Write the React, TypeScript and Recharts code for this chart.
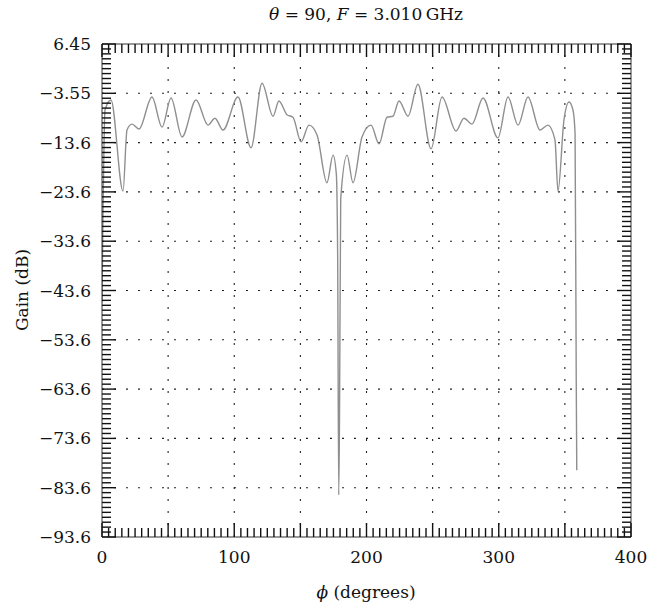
import React from 'react';
import { LineChart, Line, XAxis, YAxis, ReferenceLine, Label } from 'recharts';

// phi (degrees) and gain (dB)
const phiDeg = [
  0, 2.3, 6.8, 15.9, 18.9, 22.7, 28, 37.8, 45.4, 52.2, 60.5, 71.1, 80.2, 85.4, 91.5,
  102.8, 112.7, 121, 129.3, 133.8, 139.9, 144.4, 150.5, 156.5, 162.6, 170.1, 174.7,
  177.2, 178.2, 179, 179.6, 180.5, 185.3, 189.8, 196.6, 203.4, 209.5, 215.5, 220,
  224.6, 231.4, 238.9, 248.8, 257.1, 267.7, 273.7, 279.8, 288.1, 299.4, 307, 314.6,
  322.1, 331.2, 337.2, 342.5, 344.8, 349.3, 353.1, 356.1, 357.7, 358.6, 359,
];
const gainDb = [
  -46, -6.9, -4.9, -23.4, -11.0, -9.8, -10.8, -4.3, -10.4, -4.5, -12.4, -4.9, -10.0, -8.6, -11.0,
  -4.3, -14.6, -1.5, -8.2, -5.1, -7.9, -8.4, -13.4, -10.0, -12.0, -21.7, -16.1,
  -20, -37, -85, -69, -25, -16.1, -21.7, -12.4, -10.0, -13.8, -8.4, -8.2,
  -5.1, -8.2, -1.7, -14.8, -4.3, -11.2, -8.6, -9.8, -4.5, -12.6, -4.3, -10.0,
  -4.3, -11.0, -10.0, -13.0, -23.4, -9.0, -5.3, -6.9, -11.6, -62, -80,
];

const xTickLabels = ['0', '100', '200', '300', '400'];
const yTickLabels = ['6.45', '\u22123.55', '\u221213.6', '\u221223.6', '\u221233.6', '\u221243.6', '\u221253.6', '\u221263.6', '\u221273.6', '\u221283.6', '\u221293.6'];
const xGridValues = [50, 100, 150, 200, 250, 300, 350];
const yGridValues = [-3.55, -13.55, -23.55, -33.55, -43.55, -53.55, -63.55, -73.55, -83.55];

const title = { theta: '90', freq: '3.010\u2009GHz' };
const xAxisTitle = 'ϕ';
const yAxisTitle = 'Gain (dB)';

const data = phiDeg.map((p, i) => ({ phi: p, gain: gainDb[i] }));

const xTicks = Array.from({ length: 81 }, (_, i) => i * 5);
const yTicks = Array.from({ length: 101 }, (_, i) => Number((6.45 - i).toFixed(2)));

const FONT = "'DejaVu Serif', 'Liberation Serif', serif";
const FS = 17;
const TICK = '#111';
const TW = 1.4;

const BottomTick = (props: any) => {
  const { x, y, payload } = props;
  const v = Math.round(payload.value);
  const major = v % 50 === 0;
  const lab = v % 100 === 0;
  return (
    <g>
      <line x1={x} x2={x} y1={y} y2={y - (major ? 14 : 9)} stroke={TICK} strokeWidth={TW} />
      {lab && (
        <text x={x} y={y + 26} textAnchor="middle" fontFamily={FONT} fontSize={FS} fill="#111">
          {xTickLabels[v / 100]}
        </text>
      )}
    </g>
  );
};

const TopTick = (props: any) => {
  const { x, y, payload } = props;
  const v = Math.round(payload.value);
  const major = v % 50 === 0;
  return <line x1={x} x2={x} y1={y} y2={y + (major ? 13 : 9)} stroke={TICK} strokeWidth={TW} />;
};

const LeftTick = (props: any) => {
  const { x, y, index } = props;
  const major = index % 10 === 0;
  return (
    <g>
      <line x1={x} x2={x + (major ? 14 : 9)} y1={y} y2={y} stroke={TICK} strokeWidth={TW} />
      {major && (
        <text x={x - 11} y={y + 6} textAnchor="end" fontFamily={FONT} fontSize={FS} fill="#111">
          {yTickLabels[index / 10]}
        </text>
      )}
    </g>
  );
};

const RightTick = (props: any) => {
  const { x, y, index } = props;
  const major = index % 10 === 0;
  return <line x1={x} x2={x - (major ? 14 : 9)} y1={y} y2={y} stroke={TICK} strokeWidth={TW} />;
};

export default function App() {
  return (
    <div style={{ position: 'absolute', left: 0, top: 0, width: 648, height: 606, background: '#fff' }}>
      <LineChart
        width={648}
        height={606}
        data={data}
        margin={{ top: 34, right: 7, bottom: 39, left: 42 }}
      >
        {xGridValues.map((v) => (
          <ReferenceLine key={'gx' + v} x={v} xAxisId="bottom" yAxisId="left" stroke="#222" strokeWidth={1.1} strokeDasharray="2 10" />
        ))}
        {yGridValues.map((v) => (
          <ReferenceLine key={'gy' + v} y={v} xAxisId="bottom" yAxisId="left" stroke="#222" strokeWidth={1.1} strokeDasharray="2 10" />
        ))}
        <XAxis
          xAxisId="bottom"
          dataKey="phi"
          type="number"
          domain={[0, 400]}
          ticks={xTicks}
          interval={0}
          tickSize={0}
          tickMargin={0}
          tickLine={false}
          tick={<BottomTick />}
          height={30}
          axisLine={{ stroke: '#333', strokeWidth: 1 }}
          allowDataOverflow
        >
          <Label
            content={() => (
              <text x={366} y={598} textAnchor="middle" fontFamily={FONT} fontSize={FS} fill="#111">
                <tspan fontStyle="italic">{xAxisTitle}</tspan>
                <tspan> (degrees)</tspan>
              </text>
            )}
          />
        </XAxis>
        <XAxis
          xAxisId="top"
          orientation="top"
          dataKey="phi"
          type="number"
          domain={[0, 400]}
          ticks={xTicks}
          interval={0}
          tickSize={0}
          tickMargin={0}
          tickLine={false}
          tick={<TopTick />}
          height={10}
          axisLine={{ stroke: '#333', strokeWidth: 1 }}
          allowDataOverflow
        >
          <Label
            content={() => (
              <text x={366} y={20} textAnchor="middle" fontFamily={FONT} fontSize={FS} fill="#111">
                <tspan fontStyle="italic">θ</tspan>
                <tspan>{' = ' + title.theta + ', '}</tspan>
                <tspan fontStyle="italic">F</tspan>
                <tspan>{' = ' + title.freq}</tspan>
              </text>
            )}
          />
        </XAxis>
        <YAxis
          yAxisId="left"
          type="number"
          domain={[-93.55, 6.45]}
          ticks={yTicks}
          interval={0}
          tickSize={0}
          tickMargin={0}
          tickLine={false}
          tick={<LeftTick />}
          width={60}
          axisLine={{ stroke: '#333', strokeWidth: 1 }}
          allowDataOverflow
        >
          <Label
            content={() => (
              <text
                x={28}
                y={290}
                transform="rotate(-90 28 290)"
                textAnchor="middle"
                fontFamily={FONT}
                fontSize={FS}
                fill="#111"
              >
                {yAxisTitle}
              </text>
            )}
          />
        </YAxis>
        <YAxis
          yAxisId="right"
          orientation="right"
          type="number"
          domain={[-93.55, 6.45]}
          ticks={yTicks}
          interval={0}
          tickSize={0}
          tickMargin={0}
          tickLine={false}
          tick={<RightTick />}
          width={10}
          axisLine={{ stroke: '#333', strokeWidth: 1 }}
          allowDataOverflow
        />
        <Line
          xAxisId="bottom"
          yAxisId="left"
          type="monotone"
          dataKey="gain"
          stroke="#8f8f8f"
          strokeWidth={1.4}
          dot={false}
          isAnimationActive={false}
        />
      </LineChart>
    </div>
  );
}
